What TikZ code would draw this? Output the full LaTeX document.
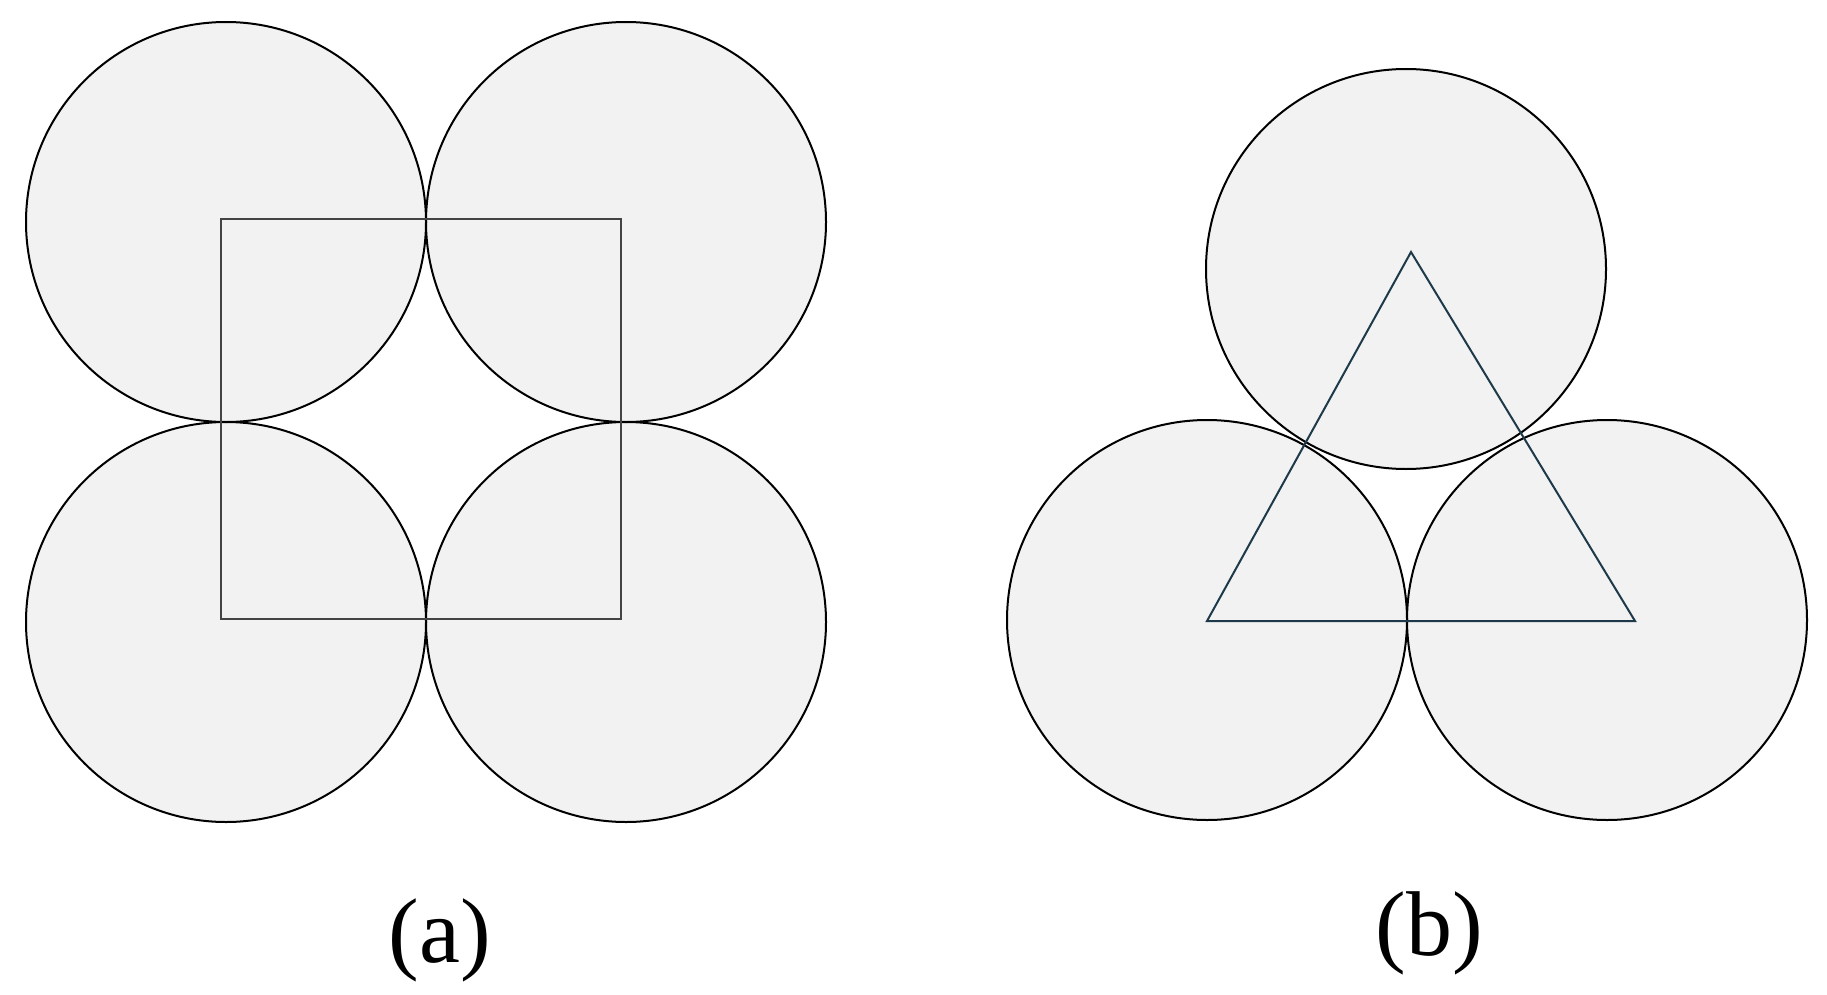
\documentclass[tikz,border=0pt]{standalone}
\usepackage{fontspec}
\setmainfont{Liberation Serif}
\definecolor{discfill}{HTML}{F2F2F2}
\definecolor{sqline}{HTML}{444444}
\definecolor{triline}{HTML}{1E3A4A}
\tikzset{
  disc/.style={fill=discfill, draw=black, line width=2pt},
  sqshape/.style={draw=sqline, line width=2.6pt, line join=miter},
  trishape/.style={draw=triline, line width=2pt, line join=miter},
  caption/.style={font=\fontsize{92}{100}\selectfont, inner sep=0pt}
}
\begin{document}
\begin{tikzpicture}[x=1pt, y=-1pt]
\useasboundingbox (0,0) rectangle (1827,995);
% (a) four circles
\coordinate (a1) at (226,222);
\coordinate (a2) at (626,222);
\coordinate (a3) at (226,622);
\coordinate (a4) at (626,622);
\foreach \c in {a1,a2,a3,a4} \fill[discfill] (\c) circle (200);
\foreach \c in {a1,a2,a3,a4} \draw[disc, fill=none] (\c) circle (200);
\draw[sqshape] (221,219) rectangle (621,619);
\node[caption] (capa) at (440,940) {(a)};
% (b) three circles
\coordinate (b1) at (1406,269);
\coordinate (b2) at (1207,620);
\coordinate (b3) at (1607,620);
\foreach \c in {b1,b2,b3} \fill[discfill] (\c) circle (200);
\foreach \c in {b1,b2,b3} \draw[disc, fill=none] (\c) circle (200);
\coordinate (t1) at (1207,621);
\coordinate (t2) at (1635,621);
\coordinate (t3) at (1411,252);
\draw[trishape] (t1) -- (t2) -- (t3) -- cycle;
\node[caption] (capb) at (1429,933) {(b)};
\end{tikzpicture}
\end{document}
